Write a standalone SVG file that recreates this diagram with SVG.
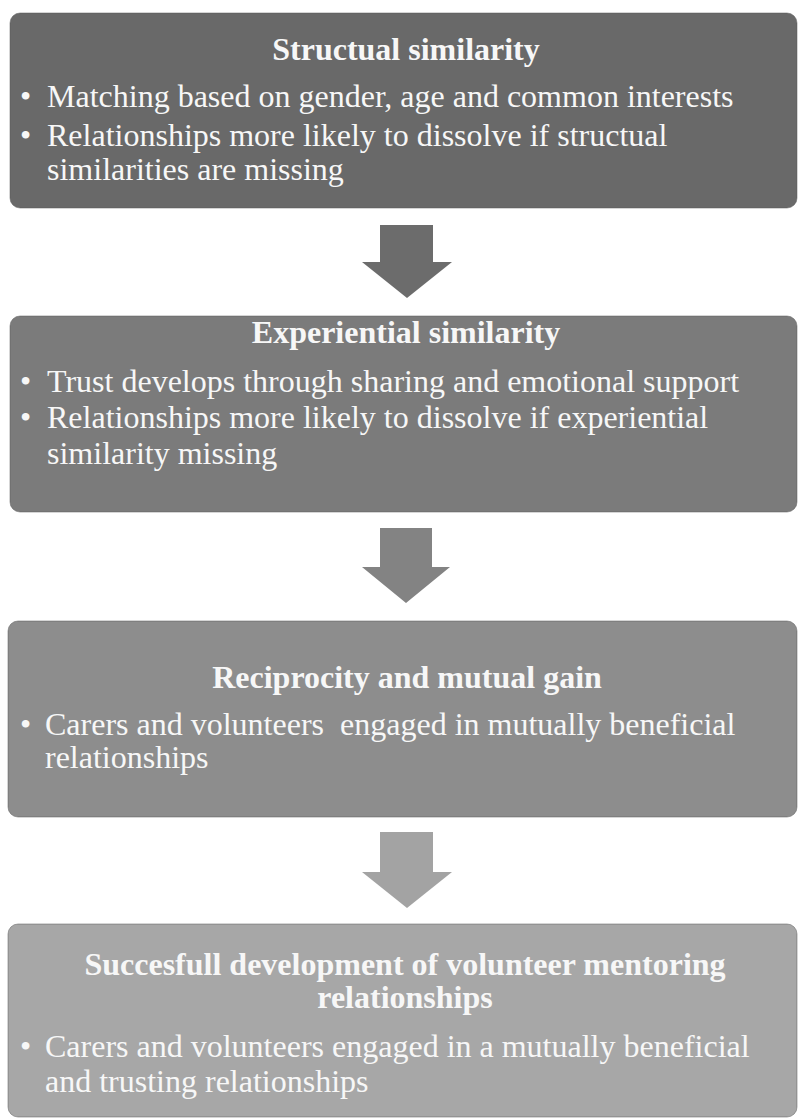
<svg xmlns="http://www.w3.org/2000/svg" width="798" height="1119" viewBox="0 0 798 1119">
<style>
  .box { stroke: #5a5a5a; stroke-width: 1; stroke-opacity: 0.5; }
  .t { font-family: "Liberation Serif", "Times New Roman", serif; font-size: 32px; fill: #f7f7f7; }
  .h { font-weight: bold; text-anchor: middle; }
  .pre { white-space: pre; }
</style>
<rect x="0" y="0" width="798" height="1119" fill="#ffffff"/>

<g id="connectors">
  <polygon id="arrow1" points="380,225 433,225 433,262 452,262 407,298 362,262 380,262" fill="#6c6c6c"/>
  <polygon id="arrow2" points="380,528 432,528 432,567 450,567 406,603 362,567 380,567" fill="#838383"/>
  <polygon id="arrow3" points="380,832 433,832 433,872 452,872 407,908 362,872 380,872" fill="#a3a3a3"/>
</g>

<g id="node-structural">
  <rect class="box" x="10" y="13" width="787" height="195" rx="10" fill="#696969"/>
  <text class="t h" x="406" y="60">Structual similarity</text>
  <text class="t" x="20" y="107">•</text>
  <text class="t" x="47" y="107">Matching based on gender, age and common interests</text>
  <text class="t" x="20" y="146">•</text>
  <text class="t" x="47" y="146">Relationships more likely to dissolve if structual</text>
  <text class="t" x="47" y="180">similarities are missing</text>
</g>

<g id="node-experiential">
  <rect class="box" x="10" y="316" width="787" height="196" rx="10" fill="#7b7b7b"/>
  <text class="t h" x="406" y="343">Experiential similarity</text>
  <text class="t" x="20" y="392">•</text>
  <text class="t" x="47" y="392">Trust develops through sharing and emotional support</text>
  <text class="t" x="20" y="428">•</text>
  <text class="t" x="47" y="428">Relationships more likely to dissolve if experiential</text>
  <text class="t" x="47" y="464">similarity missing</text>
</g>

<g id="node-reciprocity">
  <rect class="box" x="8" y="621" width="789" height="196" rx="10" fill="#8d8d8d"/>
  <text class="t h" x="407" y="688">Reciprocity and mutual gain</text>
  <text class="t" x="20" y="735">•</text>
  <text class="t pre" x="45" y="735">Carers and volunteers  engaged in mutually beneficial</text>
  <text class="t" x="45" y="768">relationships</text>
</g>

<g id="node-success">
  <rect class="box" x="8" y="924" width="789" height="193" rx="10" fill="#a7a7a7"/>
  <text class="t h" x="405" y="975">Succesfull development of volunteer mentoring</text>
  <text class="t h" x="405" y="1008">relationships</text>
  <text class="t" x="20" y="1057">•</text>
  <text class="t" x="45" y="1057">Carers and volunteers engaged in a mutually beneficial</text>
  <text class="t" x="45" y="1092">and trusting relationships</text>
</g>
</svg>
